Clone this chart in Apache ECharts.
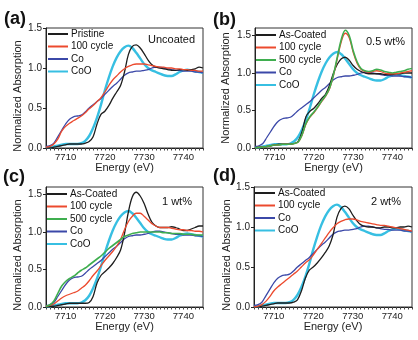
<!DOCTYPE html>
<html><head><meta charset="utf-8">
<script src="https://cdn.jsdelivr.net/npm/echarts@6/dist/echarts.min.js"></script>
<style>html,body{margin:0;padding:0;background:#fff}#c{width:418px;height:340px}</style>
</head><body><div id="c"></div>
<script>
// Energy grid (eV)
const energy = [7705,7706,7707,7708,7709,7710,7711,7712,7713,7714,7715,7716,7717,7718,7719,7720,7721,7722,7723,7724,7725,7726,7727,7728,7729,7730,7731,7732,7733,7734,7735,7736,7737,7738,7739,7740,7741,7742,7743,7744,7745];
// Reference spectra
const coRef  = [0.02,0.03,0.06,0.14,0.22,0.30,0.36,0.39,0.40,0.41,0.45,0.50,0.54,0.58,0.62,0.67,0.72,0.77,0.81,0.86,0.91,0.94,0.95,0.96,0.96,0.97,0.98,1.00,1.01,1.01,1.00,0.99,0.98,0.97,0.97,0.96,0.96,0.96,0.95,0.95,0.94];
const cooRef = [0.01,0.01,0.02,0.03,0.04,0.05,0.05,0.05,0.05,0.06,0.09,0.15,0.25,0.38,0.54,0.72,0.88,1.02,1.13,1.21,1.26,1.28,1.25,1.19,1.12,1.05,1.00,0.97,0.95,0.93,0.91,0.90,0.90,0.92,0.95,0.97,0.98,0.97,0.96,0.95,0.94];
// (a) Uncoated
const aPristine = [0.00,0.00,0.01,0.02,0.03,0.04,0.05,0.05,0.05,0.05,0.06,0.08,0.14,0.30,0.42,0.46,0.53,0.62,0.70,0.78,0.95,1.17,1.27,1.29,1.25,1.18,1.10,1.04,1.01,1.00,0.99,0.98,0.97,0.97,0.98,0.98,0.97,0.98,0.99,1.01,1.00];
const a100 = [0.01,0.02,0.05,0.11,0.21,0.27,0.31,0.34,0.37,0.40,0.44,0.49,0.53,0.58,0.63,0.70,0.78,0.85,0.90,0.95,0.99,1.02,1.04,1.05,1.05,1.05,1.04,1.03,1.02,1.01,1.01,1.00,1.00,0.99,0.99,0.98,0.98,0.97,0.97,0.96,0.96];
// (b) 0.5 wt%
const bAsCoated = [0.00,0.01,0.01,0.02,0.03,0.04,0.05,0.05,0.05,0.05,0.06,0.09,0.22,0.42,0.49,0.53,0.59,0.66,0.72,0.84,1.00,1.12,1.19,1.21,1.17,1.10,1.05,1.02,1.00,0.99,0.99,0.99,0.99,0.98,0.98,0.98,0.99,0.99,1.00,1.00,1.00];
const b100 = [0.00,0.01,0.01,0.02,0.03,0.04,0.04,0.05,0.05,0.05,0.06,0.08,0.17,0.32,0.41,0.47,0.54,0.62,0.69,0.79,0.97,1.20,1.42,1.53,1.47,1.28,1.13,1.05,1.02,1.01,1.02,1.03,1.02,1.00,0.99,0.99,0.99,1.00,1.01,1.02,1.03];
const b500 = [0.00,0.01,0.01,0.02,0.03,0.04,0.04,0.05,0.05,0.05,0.06,0.08,0.18,0.33,0.42,0.48,0.55,0.63,0.70,0.80,0.98,1.22,1.45,1.57,1.50,1.30,1.15,1.06,1.03,1.02,1.03,1.05,1.04,1.02,1.01,1.00,1.01,1.02,1.03,1.05,1.06];
// (c) 1 wt%
const cAsCoated = [0.00,0.01,0.01,0.02,0.03,0.04,0.05,0.05,0.05,0.05,0.05,0.06,0.14,0.32,0.42,0.47,0.52,0.58,0.66,0.76,0.98,1.27,1.47,1.53,1.48,1.38,1.24,1.13,1.08,1.06,1.06,1.06,1.07,1.06,1.04,1.02,1.02,1.04,1.06,1.08,1.08];
const c100 = [0.01,0.02,0.04,0.08,0.12,0.15,0.17,0.19,0.21,0.25,0.29,0.35,0.42,0.48,0.55,0.62,0.68,0.74,0.81,0.90,1.03,1.14,1.21,1.25,1.25,1.21,1.16,1.11,1.08,1.06,1.06,1.06,1.05,1.04,1.03,1.03,1.02,1.02,1.01,1.01,1.00];
const c500 = [0.01,0.03,0.08,0.18,0.28,0.34,0.38,0.41,0.45,0.49,0.52,0.56,0.60,0.64,0.68,0.73,0.78,0.82,0.86,0.90,0.94,0.96,0.98,0.99,1.00,1.00,1.00,1.00,1.00,1.00,0.99,0.99,0.98,0.98,0.98,0.97,0.97,0.97,0.96,0.96,0.96];
// (d) 2 wt%
const dAsCoated = [0.00,0.00,0.01,0.02,0.03,0.04,0.05,0.05,0.05,0.05,0.06,0.09,0.20,0.36,0.46,0.50,0.55,0.61,0.68,0.76,0.90,1.12,1.23,1.26,1.23,1.15,1.08,1.03,1.01,1.00,1.00,0.99,0.99,1.00,1.00,0.99,0.99,1.00,1.00,1.01,1.00];
const d100 = [0.00,0.01,0.03,0.07,0.13,0.20,0.25,0.29,0.33,0.37,0.41,0.45,0.50,0.55,0.59,0.65,0.72,0.79,0.86,0.93,0.99,1.04,1.07,1.09,1.10,1.10,1.09,1.07,1.06,1.05,1.04,1.03,1.02,1.02,1.01,1.00,0.99,0.98,0.97,0.96,0.95];

const xTickLabels = [7710,7720,7730,7740];
const yTickLabels = [0,0.5,1.0,1.5];
const panelLabels = ['(a)','(b)','(c)','(d)'];
const panelNotes = ['Uncoated','0.5 wt%','1 wt%','2 wt%'];
const xName = 'Energy (eV)';
const yName = 'Normalized Absorption';

const panelSeries = [
  [['Pristine',aPristine],['100 cycle',a100],['Co',coRef],['CoO',cooRef]],
  [['As-Coated',bAsCoated],['100 cycle',b100],['500 cycle',b500],['Co',coRef],['CoO',cooRef]],
  [['As-Coated',cAsCoated],['100 cycle',c100],['500 cycle',c500],['Co',coRef],['CoO',cooRef]],
  [['As-Coated',dAsCoated],['100 cycle',d100],['Co',coRef],['CoO',cooRef]]
];

const styleOf = {
  'Pristine': {color:'#1e1e1e', width:1.3, z:4},
  'As-Coated': {color:'#1e1e1e', width:1.3, z:4},
  '100 cycle': {color:'#ec4a2e', width:1.3, z:5},
  '500 cycle': {color:'#3fae4f', width:1.6, z:5},
  'Co': {color:'#3b48a8', width:1.3, z:3},
  'CoO': {color:'#37bfe2', width:2.4, z:2}
};

const grids = [
  {left:46, top:28, width:157, height:120, ymax:1.5, xGap:10, yGap:23, yPad:16, lgLeft:47, lgTop:29, noteX:148, noteY:34, labX:4, labY:10},
  {left:255, top:28, width:157, height:120, ymax:1.6, xGap:10, yGap:24, yPad:0, lgLeft:255, lgTop:30, noteX:366, noteY:36, labX:213, labY:11},
  {left:46, top:187, width:157, height:120, ymax:1.6, xGap:14, yGap:23, yPad:16, lgLeft:46, lgTop:189, noteX:162, noteY:196, labX:3, labY:168},
  {left:254, top:187, width:158, height:120, ymax:1.5, xGap:14, yGap:22, yPad:16, lgLeft:254, lgTop:188, noteX:371, noteY:196, labX:213, labY:167}
];

const sans = '"Liberation Sans",Arial,sans-serif';

const option = {
  animation:false,
  backgroundColor:'#fff',
  grid:[], xAxis:[], yAxis:[], series:[], legend:[], graphic:[]
};

grids.forEach((g,i)=>{
  option.grid.push({left:g.left, top:g.top, width:g.width, height:g.height, show:true, borderColor:'#333', borderWidth:1, containLabel:false});
  option.xAxis.push({
    gridIndex:i, type:'value', min:7705, max:7745, interval:1,
    name:xName, nameLocation:'middle', nameGap:g.xGap,
    nameTextStyle:{fontFamily:sans, fontSize:11, color:'#222'},
    axisLine:{show:true, lineStyle:{color:'#222', width:1}},
    axisTick:{show:true, inside:false, length:2.5, lineStyle:{color:'#444', width:1}},
    axisLabel:{margin:4, fontFamily:sans, fontSize:9.5, color:'#222',
      formatter:v=> xTickLabels.includes(v) ? String(v) : ''},
    splitLine:{show:false}
  });
  option.yAxis.push({
    gridIndex:i, type:'value', min:0, max:g.ymax, interval:0.5,
    name:yName, nameLocation:'middle', nameGap:g.yGap,
    nameTextStyle:{fontFamily:sans, fontSize:11, color:'#222', padding:[0,g.yPad,0,0]},
    axisLine:{show:true, lineStyle:{color:'#222', width:1}},
    axisTick:{show:true, inside:false, length:3, customValues:yTickLabels, lineStyle:{color:'#222'}},
    axisLabel:{margin:4, fontFamily:sans, fontSize:10, color:'#222', customValues:yTickLabels,
      formatter:v=> yTickLabels.includes(v) ? v.toFixed(1) : ''},
    splitLine:{show:false}
  });
  const names = [];
  panelSeries[i].forEach(([name, vals])=>{
    names.push(name);
    const st = styleOf[name];
    option.series.push({
      type:'line', name:name, xAxisIndex:i, yAxisIndex:i,
      data: energy.map((e,k)=>[e, vals[k]]),
      symbol:'none', showSymbol:false, smooth:0.35, clip:true, z:st.z,
      lineStyle:{color:st.color, width:st.width}, itemStyle:{color:st.color}
    });
  });
  option.legend.push({
    data:names, orient:'vertical', left:g.lgLeft, top:g.lgTop,
    itemWidth:20, itemHeight:9, itemGap:2.5, padding:0, selectedMode:false,
    itemStyle:{color:'rgba(0,0,0,0)', borderColor:'rgba(0,0,0,0)', borderWidth:0, opacity:0},
    textStyle:{fontFamily:sans, fontSize:10, lineHeight:10, color:'#111', padding:[0,0,0,-2]}
  });
  option.graphic.push({type:'text', left:g.labX, top:g.labY,
    style:{text:panelLabels[i], font:'bold 18px '+sans, fill:'#111'}});
  option.graphic.push({type:'text', left:g.noteX, top:g.noteY,
    style:{text:panelNotes[i], font:'11px '+sans, fill:'#111'}});
});

const chart = echarts.init(document.getElementById('c'), null, {renderer:'canvas'});
chart.setOption(option);
</script></body></html>
